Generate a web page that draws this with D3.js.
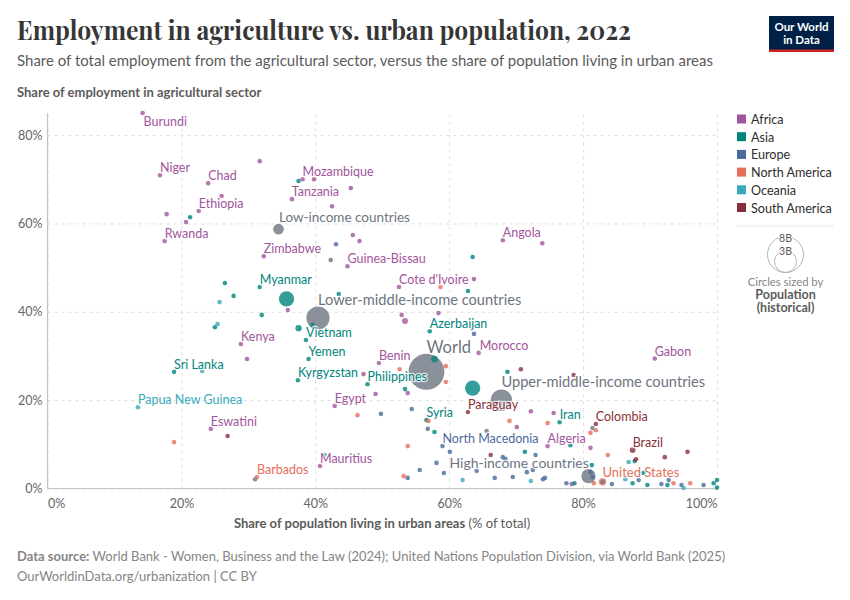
<!DOCTYPE html>
<html>
<head>
<meta charset="utf-8">
<script src="https://cdn.jsdelivr.net/npm/d3@7"></script>
<style>
  html, body { margin: 0; padding: 0; background: #fff; }
  svg { display: block; font-family: Lato, "Noto Sans", sans-serif; }
</style>
</head>
<body>
<div id="chart"></div>
<script>
// rows: name (empty if unlabelled), urban share %, agri employment share %, population in millions
const africa = [
  ["Burundi", 14.2, 85.0, 13], ["", 31.7, 74.1, 20], ["Niger", 16.8, 70.9, 26], ["Chad", 24.0, 69.1, 18],
  ["", 26.0, 66.2, 10], ["Ethiopia", 22.6, 62.8, 125], ["", 20.7, 60.3, 10], ["", 17.8, 62.1, 10],
  ["Rwanda", 17.5, 56.0, 14], ["Mozambique", 38.1, 70.0, 33], ["", 39.8, 70.0, 10], ["", 45.3, 68.0, 10],
  ["Tanzania", 36.5, 65.5, 65], ["", 42.5, 63.9, 10], ["", 45.6, 57.4, 10], ["", 46.6, 56.0, 10],
  ["Zimbabwe", 32.3, 52.6, 16], ["Guinea-Bissau", 44.8, 50.3, 2], ["Angola", 68.0, 56.2, 36],
  ["", 73.9, 55.5, 10], ["", 63.7, 47.4, 10], ["Cote d'Ivoire", 52.5, 45.6, 30], ["", 35.9, 40.4, 50],
  ["Kenya", 28.9, 32.7, 54], ["", 29.8, 29.3, 30], ["Benin", 49.5, 28.4, 14], ["", 47.2, 25.9, 10],
  ["", 49.0, 21.4, 10], ["Egypt", 42.9, 18.7, 110], ["Eswatini", 24.4, 13.5, 1], ["Mauritius", 40.7, 5.1, 1],
  ["", 52.9, 39.3, 30], ["", 53.4, 37.9, 220], ["", 58.4, 39.7, 10],
  ["Morocco", 64.4, 30.7, 38], ["", 53.8, 21.6, 10], ["", 72.2, 17.5, 10], ["", 75.6, 17.1, 10],
  ["", 70.1, 13.9, 10], ["Algeria", 74.7, 9.6, 45], ["Gabon", 90.7, 29.4, 2], ["", 81.1, 9.2, 10],
  ["", 78.3, 1.0, 10]
];
const asia = [
  ["", 37.5, 69.6, 10], ["", 21.3, 61.4, 10], ["Myanmar", 31.7, 45.6, 54],
  ["", 26.5, 46.5, 10], ["", 27.8, 43.6, 10], ["", 43.5, 44.0, 10], ["", 63.5, 52.4, 10],
  ["", 62.8, 44.7, 10], ["", 35.7, 42.9, 1430], ["", 32.0, 39.3, 10], ["", 39.6, 37.0, 40],
  ["", 37.5, 36.3, 245], ["", 25.0, 36.5, 10], ["Vietnam", 38.6, 33.6, 99], ["Yemen", 39.0, 29.3, 38],
  ["Sri Lanka", 18.9, 26.4, 22], ["Kyrgyzstan", 37.4, 24.5, 7], ["Philippines", 47.8, 23.6, 115],
  ["Azerbaijan", 57.1, 35.6, 10], ["", 57.8, 29.3, 280], ["", 53.4, 22.5, 10],
  ["", 63.5, 22.7, 1425], ["", 68.7, 26.4, 10], ["Syria", 56.6, 15.5, 22], ["", 57.8, 12.8, 10],
  ["Iran", 76.5, 15.0, 89], ["", 71.3, 8.3, 10], ["", 78.1, 9.8, 10], ["", 87.7, 6.2, 10],
  ["", 81.3, 5.3, 10], ["", 78.7, 1.2, 10], ["", 87.4, 1.2, 10], ["", 89.6, 0.8, 10],
  ["", 89.0, 3.5, 10], ["", 92.6, 0.8, 10], ["", 99.5, 1.2, 10], ["", 100, 1.9, 10], ["", 100, 0.2, 25]
];
const europe = [
  ["", 43.1, 55.3, 10], ["", 63.7, 35.0, 10], ["", 49.8, 16.9, 10], ["", 54.4, 18.0, 10],
  ["", 56.8, 13.5, 10], ["North Macedonia", 59.0, 9.6, 2], ["", 60.1, 8.3, 10], ["", 68.0, 7.1, 10],
  ["", 72.9, 7.6, 10], ["", 68.4, 6.7, 10], ["", 58.1, 5.8, 10], ["", 55.6, 4.2, 10], ["", 59.2, 3.5, 10],
  ["", 53.8, 2.4, 10], ["", 64.1, 4.0, 10], ["", 66.8, 2.4, 10], ["", 69.5, 2.6, 10], ["", 71.6, 3.7, 10],
  ["", 72.5, 4.2, 10], ["", 74.0, 2.1, 10], ["", 74.3, 2.4, 10], ["", 81.1, 3.7, 40],
  ["", 81.4, 2.6, 60], ["", 77.5, 1.2, 10], ["", 84.3, 1.0, 10], ["", 88.3, 1.9, 10], ["", 91.7, 1.0, 10],
  ["", 92.8, 1.9, 10], ["", 94.7, 0.8, 10], ["", 98.0, 0.8, 10]
];
const northAmerica = [
  ["", 58.7, 45.6, 10], ["", 18.9, 10.5, 10], ["", 46.3, 16.6, 10], ["Barbados", 31.3, 2.6, 1],
  ["", 59.5, 27.7, 10], ["", 52.6, 27.0, 10], ["", 59.5, 24.1, 10], ["", 56.9, 15.3, 10],
  ["", 69.0, 15.3, 10], ["", 74.7, 14.8, 10], ["", 53.8, 9.6, 10], ["", 53.2, 2.8, 10],
  ["", 81.9, 13.2, 10], ["", 81.1, 12.6, 30], ["", 83.7, 7.6, 10], ["", 81.6, 1.2, 10],
  ["United States", 82.9, 1.5, 340], ["", 93.5, 1.2, 10], ["", 96.0, 1.2, 10]
];
const oceania = [
  ["", 25.7, 42.2, 10], ["", 25.4, 37.2, 10], ["", 23.1, 26.6, 1], ["Papua New Guinea", 13.5, 18.4, 10],
  ["", 41.4, 7.6, 1], ["", 62.0, 1.9, 10], ["", 72.2, 1.7, 10], ["", 86.8, 6.0, 10],
  ["", 86.3, 2.1, 10], ["", 95.0, 0.1, 10]
];
const southAmerica = [
  ["", 26.9, 11.9, 10], ["", 70.7, 27.0, 10], ["Paraguay", 62.8, 17.3, 7], ["", 66.2, 7.6, 10],
  ["", 78.6, 25.7, 10], ["Colombia", 81.9, 14.6, 52], ["Brazil", 87.4, 8.7, 210], ["", 92.2, 7.1, 10],
  ["", 95.6, 8.3, 10], ["", 87.9, 6.6, 10]
];
// grey dots without a continent colour in the picture
const noContinent = [
  ["", 42.3, 51.7, 10], ["", 31.0, 2.1, 10], ["", 65.6, 13.0, 10], ["", 81.4, 13.7, 10], ["", 82.9, 1.5, 40]
];
const incomeGroups = [
  ["Low-income countries", 34.5, 58.7, 700], ["Lower-middle-income countries", 40.4, 38.6, 3300],
  ["World", 56.6, 26.4, 8000], ["Upper-middle-income countries", 67.8, 20.0, 2800],
  ["High-income countries", 80.8, 2.8, 1250]
];

const continentNames = ["Africa", "Asia", "Europe", "North America", "Oceania", "South America"];
const continentColors = ["#A2559C", "#00847E", "#4C6A9C", "#E56E5A", "#38AABA", "#883039"];
const continentRows = [africa, asia, europe, northAmerica, oceania, southAmerica];
const groupColor = "#6E7581";

const xTicks = [0, 20, 40, 60, 80, 100];
const yTicks = [0, 20, 40, 60, 80];

// label offset from the dot [dx, dy], font size for the big group labels
const labelOffset = {
  "Burundi": [1, 13], "Low-income countries": [0.5, -7], "Lower-middle-income countries": [0, -13],
  "World": [0, -19], "Upper-middle-income countries": [0, -13], "High-income countries": [-139, -8],
  "United States": [0, -5], "Syria": [0, -3], "Morocco": [1, -3], "Paraguay": [0, -3]
};
const labelSize = {
  "Low-income countries": 13.5, "Lower-middle-income countries": 14.65, "World": 16.5,
  "Upper-middle-income countries": 14.65, "High-income countries": 14, "United States": 13
};

const chartWidth = 850, chartHeight = 600;
const plotLeft = 47.5, plotRight = 717, plotTop = 113, plotBottom = 488.5;

const svg = d3.select("#chart").append("svg")
  .attr("width", chartWidth)
  .attr("height", chartHeight);

const x = d3.scaleLinear().domain([0, 100]).range([plotLeft, plotRight]);
const y = d3.scaleLinear().domain([0, 85]).range([plotBottom, plotTop]);
const r = d3.scaleSqrt().domain([0, 8000]).range([0, 18]);

// titles
svg.append("text").attr("x", 17).attr("y", 40)
  .attr("textLength", 614).attr("lengthAdjust", "spacingAndGlyphs")
  .style("font-family", "'Playfair Display', 'Liberation Serif', serif")
  .style("font-size", "27px").style("font-weight", 700).style("fill", "#363636")
  .text("Employment in agriculture vs. urban population, 2022");
svg.append("text").attr("x", 17).attr("y", 66)
  .style("font-size", "15px").style("fill", "#5b5b5b")
  .text("Share of total employment from the agricultural sector, versus the share of population living in urban areas");
svg.append("text").attr("x", 17).attr("y", 97)
  .style("font-size", "13px").style("font-weight", 700).style("fill", "#5b5b5b")
  .text("Share of employment in agricultural sector");

// axes with dashed grid
const xAxis = svg.append("g")
  .attr("transform", `translate(0,${plotBottom})`)
  .call(d3.axisBottom(x).tickValues(xTicks).tickFormat(d => d + "%").tickSize(-(plotBottom - plotTop)).tickPadding(14));
const yAxis = svg.append("g")
  .attr("transform", `translate(${plotLeft},0)`)
  .call(d3.axisLeft(y).tickValues(yTicks).tickFormat(d => d + "%").tickSize(-(plotRight - plotLeft)).tickPadding(5));

[xAxis, yAxis].forEach(a => {
  a.select(".domain").remove();
  a.selectAll(".tick line").attr("stroke", "#dddddd").attr("stroke-dasharray", "3,4");
  a.selectAll(".tick text").style("font-size", "12.5px").style("fill", "#666666").style("font-family", "Lato");
});
xAxis.selectAll(".tick text").attr("dy", "0.4em")
  .attr("text-anchor", d => d === 0 ? "start" : d === 100 ? "end" : "middle");
svg.append("line").attr("x1", plotLeft).attr("x2", plotLeft).attr("y1", plotTop).attr("y2", plotBottom)
  .attr("stroke", "#c4c4c4").attr("stroke-width", 1.2);
svg.append("line").attr("x1", plotLeft).attr("x2", plotRight).attr("y1", plotBottom).attr("y2", plotBottom)
  .attr("stroke", "#c4c4c4").attr("stroke-width", 1.2);

svg.append("text").attr("x", 382).attr("y", 528).attr("text-anchor", "middle")
  .style("font-size", "13px").style("fill", "#5b5b5b")
  .call(t => {
    t.append("tspan").style("font-weight", 700).text("Share of population living in urban areas");
    t.append("tspan").text(" (% of total)");
  });

// points
const rows = [];
continentRows.forEach((list, i) => list.forEach(d => rows.push({
  name: d[0], urban: d[1], agri: d[2], pop: d[3], color: continentColors[i]
})));
noContinent.concat(incomeGroups).forEach(d => rows.push({
  name: d[0], urban: d[1], agri: d[2], pop: d[3], color: groupColor
}));
rows.sort((a, b) => b.pop - a.pop);

svg.append("g").selectAll("circle")
  .data(rows)
  .join("circle")
  .attr("cx", d => x(d.urban))
  .attr("cy", d => y(d.agri))
  .attr("r", d => Math.max(2.3, r(d.pop)))
  .attr("fill", d => d.color)
  .attr("fill-opacity", 0.8);

// labels on top, with a white halo
svg.append("g").selectAll("text")
  .data(rows.filter(d => d.name))
  .join("text")
  .attr("x", d => x(d.urban) + (labelOffset[d.name] ? labelOffset[d.name][0] : 0))
  .attr("y", d => y(d.agri) + (labelOffset[d.name] ? labelOffset[d.name][1] : -3))
  .style("font-size", d => (labelSize[d.name] || 12.5) + "px")
  .style("fill", d => d.color)
  .style("paint-order", "stroke")
  .style("stroke", "#fff")
  .style("stroke-width", 2.5)
  .style("stroke-opacity", 0.75)
  .text(d => d.name);

// legend
const legend = svg.append("g").selectAll("g")
  .data(continentNames)
  .join("g")
  .attr("transform", (d, i) => `translate(737,${114.5 + i * 17.7})`);
legend.append("rect").attr("width", 9).attr("height", 9)
  .attr("fill", (d, i) => continentColors[i]);
legend.append("text").attr("x", 14).attr("y", 9.5)
  .style("font-size", "12.6px").style("fill", "#2d2d2d")
  .text(d => d);

svg.append("line").attr("x1", 737).attr("x2", 834).attr("y1", 226).attr("y2", 226)
  .attr("stroke", "#e7e7e7");

// size legend
const sizeValues = [8000, 3000];
const sizeLabels = ["8B", "3B"];
const sizeBase = 272.5, sizeCx = 785.5;
svg.append("g").selectAll("circle")
  .data(sizeValues)
  .join("circle")
  .attr("cx", sizeCx)
  .attr("cy", d => sizeBase - r(d))
  .attr("r", d => r(d))
  .attr("fill", "none")
  .attr("stroke", "#b5b5b5");
svg.append("g").selectAll("text")
  .data(sizeValues)
  .join("text")
  .attr("x", sizeCx)
  .attr("y", d => sizeBase - 2 * r(d) + 5)
  .attr("text-anchor", "middle")
  .style("font-size", "10.5px").style("fill", "#5b5b5b")
  .style("paint-order", "stroke").style("stroke", "#fff").style("stroke-width", 2)
  .text((d, i) => sizeLabels[i]);
[["Circles sized by", 286, 400, "#858585", 11.3], ["Population", 299, 700, "#5b5b5b", 12.5], ["(historical)", 312, 700, "#5b5b5b", 12.5]]
  .forEach(d => svg.append("text").attr("x", sizeCx).attr("y", d[1]).attr("text-anchor", "middle")
    .style("font-size", d[4] + "px").style("font-weight", d[2]).style("fill", d[3]).text(d[0]));

// logo
svg.append("rect").attr("x", 769).attr("y", 16).attr("width", 65).attr("height", 36).attr("fill", "#002147");
svg.append("rect").attr("x", 769).attr("y", 49.5).attr("width", 65).attr("height", 2.5).attr("fill", "#CE261E");
["Our World", "in Data"].forEach((d, i) => svg.append("text")
  .attr("x", 801.5).attr("y", 31 + i * 12.5).attr("text-anchor", "middle")
  .style("font-size", "11.5px").style("font-weight", 700).style("fill", "#fff").text(d));

// footer
svg.append("text").attr("x", 17).attr("y", 561)
  .style("font-size", "13px").style("fill", "#858585")
  .call(t => {
    t.append("tspan").style("font-weight", 700).text("Data source:");
    t.append("tspan").text(" World Bank - Women, Business and the Law (2024); United Nations Population Division, via World Bank (2025)");
  });
svg.append("text").attr("x", 17).attr("y", 581)
  .style("font-size", "13px").style("fill", "#858585")
  .text("OurWorldinData.org/urbanization | CC BY");
</script>
</body>
</html>
